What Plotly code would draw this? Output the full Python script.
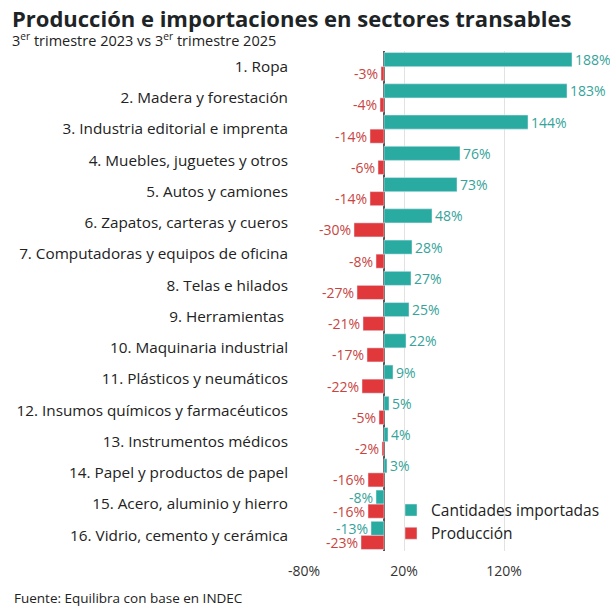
import plotly.graph_objects as go

categories = [
    "1. Ropa",
    "2. Madera y forestación",
    "3. Industria editorial e imprenta",
    "4. Muebles, juguetes y otros",
    "5. Autos y camiones",
    "6. Zapatos, carteras y cueros",
    "7. Computadoras y equipos de oficina",
    "8. Telas e hilados",
    "9. Herramientas ",
    "10. Maquinaria industrial",
    "11. Plásticos y neumáticos",
    "12. Insumos químicos y farmacéuticos",
    "13. Instrumentos médicos",
    "14. Papel y productos de papel",
    "15. Acero, aluminio y hierro",
    "16. Vidrio, cemento y cerámica",
]
importadas = [188, 183, 144, 76, 73, 48, 28, 27, 25, 22, 9, 5, 4, 3, -8, -13]
produccion = [-3, -4, -14, -6, -14, -30, -8, -27, -21, -17, -22, -5, -2, -16, -16, -23]

tick_vals = [-80, 20, 120]
tick_text = ["-80%", "20%", "120%"]

TEAL = "#2aaba2"
RED = "#e0383b"
TEAL_TXT = "#35a39a"
RED_TXT = "#c8453f"
FONT = "Open Sans"

fig = go.Figure()
fig.add_trace(go.Bar(
    y=categories, x=importadas, orientation="h", name="Cantidades importadas",
    marker=dict(color=TEAL), text=[f"{v}%" for v in importadas],
    textposition="outside", textangle=0, constraintext="none",
    textfont=dict(color=TEAL_TXT, size=14, family=FONT),
    cliponaxis=False, hoverinfo="skip",
))
fig.add_trace(go.Bar(
    y=categories, x=produccion, orientation="h", name="Producción",
    marker=dict(color=RED), text=[f"{v}%" for v in produccion],
    textposition="outside", textangle=0, constraintext="none",
    textfont=dict(color=RED_TXT, size=14, family=FONT),
    cliponaxis=False, hoverinfo="skip",
))

fig.update_layout(
    width=610, height=611,
    margin=dict(l=304, r=6, t=51, b=60, autoexpand=False),
    paper_bgcolor="white", plot_bgcolor="white",
    barmode="group", bargap=0.1, bargroupgap=0,
    font=dict(family=FONT, color="#222222", size=14),
    showlegend=True,
    legend=dict(x=0.29, y=0.115, xanchor="left", yanchor="top",
                font=dict(size=15.5, color="#222222"), traceorder="normal",
                bgcolor="rgba(0,0,0,0)", itemwidth=30),
)
fig.update_xaxes(
    range=[-80, 220], tickvals=tick_vals, ticktext=tick_text,
    showgrid=True, gridcolor="#e2e2e2", gridwidth=1,
    zeroline=True, zerolinecolor="#555555", zerolinewidth=1.5,
    showline=False, ticks="", tickfont=dict(size=14, color="#333333"),
    ticklabelstandoff=10, fixedrange=True, automargin=False,
)
fig.update_yaxes(
    autorange="reversed", showgrid=False, showline=False, ticks="",
    tickfont=dict(size=15.3, color="#222222"), ticklabelstandoff=15,
    automargin=False, fixedrange=True,
)

fig.add_annotation(
    text="<b>Producción e importaciones en sectores transables</b>",
    xref="paper", yref="paper", x=-294/300, y=1 + 33/500, xanchor="left", yanchor="middle",
    showarrow=False, font=dict(size=22, color="#1e2426", family=FONT),
)
fig.add_annotation(
    text="3<sup>er</sup> trimestre 2023 vs 3<sup>er</sup> trimestre 2025",
    xref="paper", yref="paper", x=-294/300, y=1 + 11/500, xanchor="left", yanchor="middle",
    showarrow=False, font=dict(size=14.5, color="#222222", family=FONT),
)
fig.add_annotation(
    text="Fuente: Equilibra con base en INDEC",
    xref="paper", yref="paper", x=-292/300, y=-47/500, xanchor="left", yanchor="middle",
    showarrow=False, font=dict(size=13.5, color="#222222", family=FONT),
)

fig.write_html("out.html", config={"displayModeBar": False},
               post_script="document.body.style.margin='0';")
